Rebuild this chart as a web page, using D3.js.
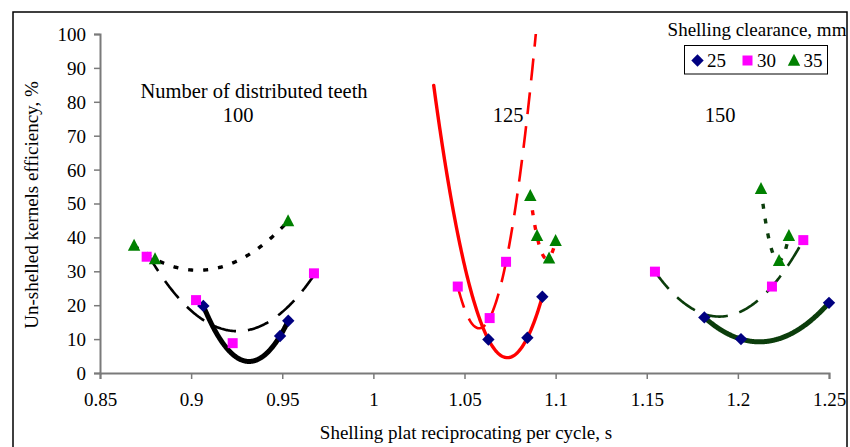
<!DOCTYPE html>
<html><head><meta charset="utf-8">
<script src="https://cdn.jsdelivr.net/npm/d3@7"></script>
<style>
html,body{margin:0;padding:0;background:#fff;}
svg{display:block;}
text{font-family:"Liberation Serif","Times New Roman",serif;fill:#000;}
</style></head>
<body>
<svg id="chart" width="850" height="447"></svg>
<script>
// ---------- data ----------
const teethGroups = ["100", "125", "150"];
const clearances = ["25", "30", "35"];
const xTickValues = [0.85, 0.9, 0.95, 1, 1.05, 1.1, 1.15, 1.2, 1.25];
const yTickValues = [0, 10, 20, 30, 40, 50, 60, 70, 80, 90, 100];

// [x, y] per measured point
const t100_c25 = [[0.9067, 19.8], [0.9488, 10.9], [0.9533, 15.4]];
const t100_c30 = [[0.8756, 34.3], [0.9027, 21.5], [0.9228, 8.8], [0.9674, 29.4]];
const t100_c35 = [[0.8687, 37.6], [0.8802, 33.6], [0.9532, 44.8]];
const t125_c25 = [[1.0631, 9.9], [1.0845, 10.4], [1.0927, 22.5]];
const t125_c30 = [[1.0463, 25.5], [1.0638, 16.2], [1.0728, 32.8]];
const t125_c35 = [[1.0861, 52.3], [1.0898, 40.5], [1.1000, 39.0], [1.0964, 33.8]];
const t150_c25 = [[1.1816, 16.4], [1.2017, 10.0], [1.2500, 20.7]];
const t150_c30 = [[1.1545, 29.9], [1.2187, 25.5], [1.2359, 39.2]];
const t150_c35 = [[1.2127, 54.3], [1.2226, 33.1], [1.2280, 40.5]];

// trendline forecast (backward, forward), in x units
const forecast125_c25 = [0.03, 0];
const forecast125_c30 = [0, 0.03];

const seriesData = {
  "100": [t100_c25, t100_c30, t100_c35],
  "125": [t125_c25, t125_c30, t125_c35],
  "150": [t150_c25, t150_c30, t150_c35]
};
const forecasts = {"125": [forecast125_c25, forecast125_c30, [0, 0]]};

const xTitle = "Shelling plat reciprocating per cycle, s";
const yTitle = "Un-shelled kernels efficiency, %";
const legendTitle = "Shelling clearance, mm";
const annotTitle = "Number of distributed teeth";

// ---------- styles ----------
const SERIF = '"Liberation Serif","Times New Roman",serif';
const groupLineColor = {"100": "#000000", "125": "#ff0000", "150": "#0b3d0b"};
const markerColor = ["#000080", "#ff00ff", "#008000"];
const lineWidth = [5, 2.6, 3.4];
const lineDash = [null, "22,12", "5,10"];
const FONT = 19;

const svg = d3.select("#chart");
const W = 850, H = 447;
const plot = {left: 100, right: 829, top: 34, bottom: 373};

const x = d3.scaleLinear().domain([0.85, 1.25]).range([plot.left, plot.right]);
const y = d3.scaleLinear().domain([0, 100]).range([plot.bottom, plot.top]);

svg.append("rect").attr("width", W).attr("height", H).attr("fill", "#fff");
// outer chart border
svg.append("rect").attr("x", 13).attr("y", 12).attr("width", 834).attr("height", 450)
  .attr("fill", "none").attr("stroke", "#000").attr("stroke-width", 1.5);

svg.append("clipPath").attr("id", "clip").append("rect")
  .attr("x", plot.left).attr("y", plot.top)
  .attr("width", plot.right - plot.left).attr("height", plot.bottom - plot.top);

// axes
const axisColor = "#7a7a7a";
const xAxis = svg.append("g").attr("transform", `translate(0,${plot.bottom})`)
  .call(d3.axisBottom(x).tickValues(xTickValues).tickSize(6).tickPadding(14)
    .tickFormat(d => String(+d.toFixed(2))));
const yAxis = svg.append("g").attr("transform", `translate(${plot.left},0)`)
  .call(d3.axisLeft(y).tickValues(yTickValues).tickSize(6).tickPadding(8));
[xAxis, yAxis].forEach(a => {
  a.selectAll("path.domain").attr("stroke", axisColor).attr("stroke-width", 2);
  a.selectAll(".tick line").attr("stroke", axisColor).attr("stroke-width", 1.5);
  a.selectAll(".tick text").attr("font-family", SERIF)
    .attr("font-size", FONT).attr("fill", "#000");
});
yAxis.selectAll(".tick text").attr("dy", "0.34em");

// axis titles
svg.append("text").attr("x", 466).attr("y", 439).attr("text-anchor", "middle")
  .attr("font-family", SERIF).attr("font-size", FONT).text(xTitle);
svg.append("text").attr("transform", "translate(38,205) rotate(-90)")
  .attr("text-anchor", "middle").attr("font-family", SERIF).attr("font-size", FONT).text(yTitle);

// quadratic least-squares trend (like a spreadsheet polynomial trendline)
function quadFit(pts) {
  const S = Array.from({length: 5}, (_, k) => d3.sum(pts, p => Math.pow(p[0], k)));
  const T = Array.from({length: 3}, (_, k) => d3.sum(pts, p => p[1] * Math.pow(p[0], k)));
  const A = [[S[0], S[1], S[2], T[0]], [S[1], S[2], S[3], T[1]], [S[2], S[3], S[4], T[2]]];
  for (let i = 0; i < 3; i++) {
    let m = i;
    for (let r = i + 1; r < 3; r++) if (Math.abs(A[r][i]) > Math.abs(A[m][i])) m = r;
    [A[i], A[m]] = [A[m], A[i]];
    for (let r = 0; r < 3; r++) if (r !== i) {
      const f = A[r][i] / A[i][i];
      for (let c = i; c < 4; c++) A[r][c] -= f * A[i][c];
    }
  }
  const c = A.map((row, i) => row[3] / row[i]);
  return v => c[0] + c[1] * v + c[2] * v * v;
}

const lineGen = d3.line().x(d => x(d[0])).y(d => y(d[1]));
const trendG = svg.append("g").attr("clip-path", "url(#clip)");

teethGroups.forEach(g => {
  seriesData[g].forEach((pts, si) => {
    const x0 = d3.mean(pts, p => p[0]);
    const f = quadFit(pts.map(p => [(p[0] - x0) * 100, p[1]]));
    const fc = (forecasts[g] || [])[si] || [0, 0];
    const [lo, hi] = d3.extent(pts, p => p[0]);
    const a = lo - fc[0], b = hi + fc[1];
    const samples = d3.range(0, 201).map(i => {
      const v = a + (b - a) * i / 200;
      return [v, f((v - x0) * 100)];
    });
    const path = trendG.append("path").datum(samples).attr("d", lineGen)
      .attr("fill", "none").attr("stroke", groupLineColor[g])
      .attr("stroke-width", si === 0 && g === "125" ? 3.4 : lineWidth[si])
      .attr("stroke-linecap", si === 0 ? "round" : "butt");
    if (lineDash[si]) path.attr("stroke-dasharray", lineDash[si]);
  });
});

// markers
function markerPath(type, s) {
  if (type === 0) return `M0,${-s * 0.62}L${s * 0.62},0L0,${s * 0.62}L${-s * 0.62},0Z`;
  if (type === 1) return `M${-s / 2},${-s / 2}h${s}v${s}h${-s}Z`;
  return `M0,${-s * 0.68}L${s * 0.62},${s * 0.52}L${-s * 0.62},${s * 0.52}Z`;
}
const markG = svg.append("g");
teethGroups.forEach(g => {
  seriesData[g].forEach((pts, si) => {
    markG.selectAll(null).data(pts).enter().append("path")
      .attr("transform", d => `translate(${x(d[0])},${y(d[1])})`)
      .attr("d", markerPath(si, 10))
      .attr("fill", markerColor[si]);
  });
});

// annotations
svg.append("text").attr("x", 254).attr("y", 98).attr("text-anchor", "middle")
  .attr("font-family", SERIF).attr("font-size", 20.5).text(annotTitle);
const annotX = {"100": 238, "125": 508, "150": 720};
teethGroups.forEach(g => {
  svg.append("text").attr("x", annotX[g]).attr("y", 122).attr("text-anchor", "middle")
    .attr("font-family", SERIF).attr("font-size", 20.5).text(g);
});

// legend
svg.append("text").attr("x", 757).attr("y", 36).attr("text-anchor", "middle")
  .attr("font-family", SERIF).attr("font-size", FONT).text(legendTitle);
svg.append("rect").attr("x", 684.5).attr("y", 45.5).attr("width", 143).attr("height", 28.5)
  .attr("fill", "#fff").attr("stroke", "#000").attr("stroke-width", 1);
const legX = [697.5, 747.5, 794];
clearances.forEach((c, i) => {
  svg.append("path").attr("transform", `translate(${legX[i]},60.5)`)
    .attr("d", markerPath(i, 10)).attr("fill", markerColor[i]);
  svg.append("text").attr("x", legX[i] + 9.5).attr("y", 67)
    .attr("font-family", SERIF).attr("font-size", FONT).text(c);
});
</script>
</body></html>
